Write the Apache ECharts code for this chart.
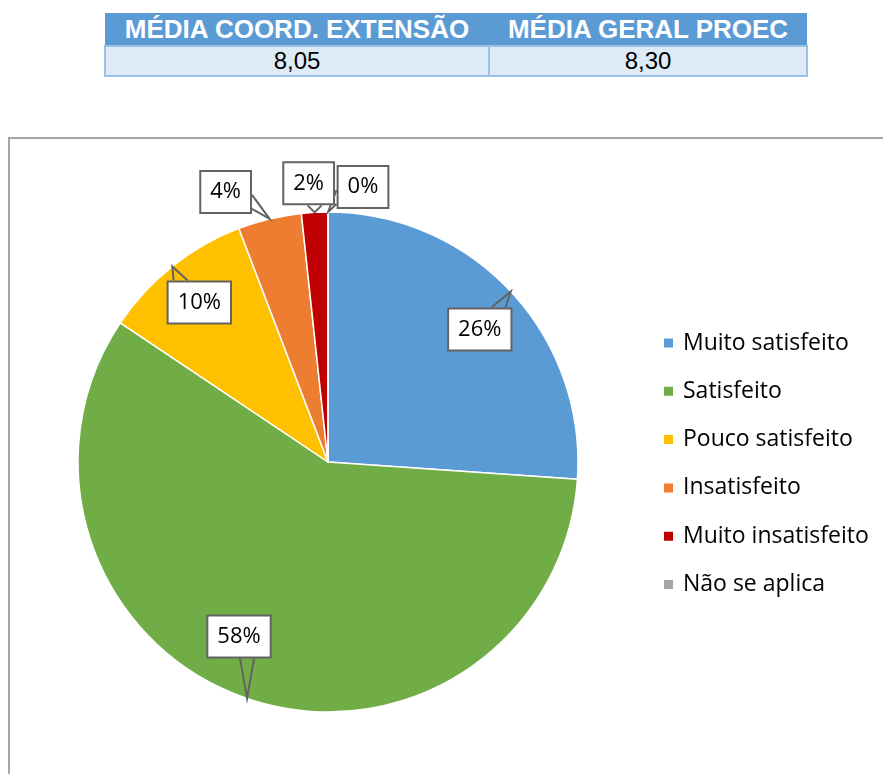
<!DOCTYPE html>
<html lang="pt">
<head>
    <meta charset="UTF-8">
    <title>Satisfação</title>
    <script type="text/javascript" src="https://cdn.jsdelivr.net/npm/echarts@6/dist/echarts.min.js"></script>
    <style>
        body {
            margin: 0;
            width: 883px;
            height: 774px;
            overflow: hidden;
            background: #fff;
            position: relative;
        }

        .media {
            position: absolute;
            left: 104px;
            top: 13px;
            border-collapse: collapse;
            font-family: "Liberation Sans", Arial, sans-serif;
        }

        .media th {
            background-color: #5b9bd5;
            color: #fff;
            font-size: 26px;
            font-weight: bold;
            height: 32px;
            padding: 0;
            line-height: 32px;
        }

        .media td {
            background-color: #ddebf7;
            border: 2px solid #9bc2e6;
            color: #000;
            font-size: 24px;
            height: 28px;
            padding: 0;
            text-align: center;
            line-height: 28px;
        }

        .frame {
            position: absolute;
            left: 8px;
            top: 137px;
            width: 900px;
            height: 700px;
            border-left: 2px solid #a6a6a6;
            border-top: 2px solid #a6a6a6;
        }

        #main {
            position: absolute;
            left: 0;
            top: 0;
            width: 883px;
            height: 774px;
        }
    </style>
</head>
<body>
<table class="media">
    <tr>
        <th style="width: 384px;">MÉDIA COORD. EXTENSÃO</th>
        <th style="width: 318px;">MÉDIA GERAL PROEC</th>
    </tr>
    <tr>
        <td>8,05</td>
        <td>8,30</td>
    </tr>
</table>
<div class="frame"></div>
<div id="main"></div>
<script>
    // categorias e percentuais
    var categorias = ['Muito satisfeito', 'Satisfeito', 'Pouco satisfeito', 'Insatisfeito', 'Muito insatisfeito', 'Não se aplica'];
    var valores = [26.1, 58.3, 9.8, 4.1, 1.7, 0];
    var cores = ['#5b9bd5', '#70ad47', '#ffc000', '#ed7d31', '#c00000', '#a5a5a5'];
    // deslocamento da caixa do rótulo em relação à ponta (borda da fatia)
    var deslocRotulo = [[-31, 38], [-8, -62], [27, 36], [-44, -27], [-6, -29], [35, -25]];

    var chartDom = document.getElementById('main');
    var myChart = echarts.init(chartDom);

    var dados = [];
    var dadosRotulo = [];
    for (var i = 0; i < categorias.length; i++) {
        dados.push({name: categorias[i], value: valores[i], itemStyle: {color: cores[i]}});
        dadosRotulo.push({name: categorias[i], value: valores[i]});
    }

    // caixa do rótulo com "bico" apontando para a borda da fatia
    function balao(params) {
        var tip = params.labelLinePoints[0];
        var off = deslocRotulo[params.dataIndex];
        var w = params.labelRect.width, h = params.labelRect.height;
        var cx = tip[0] + off[0], cy = tip[1] + off[1];
        var l = cx - w / 2, r = cx + w / 2, t = cy - h / 2, b = cy + h / 2;
        var gx = tip[0] < l ? l - tip[0] : (tip[0] > r ? tip[0] - r : 0);
        var gy = tip[1] < t ? t - tip[1] : (tip[1] > b ? tip[1] - b : 0);
        var p1, p2;
        if (gy >= gx) {
            var ey = tip[1] < t ? t : b;
            var mx = Math.min(Math.max(tip[0], l + 14), r - 14);
            p1 = [mx - 7, ey];
            p2 = [mx + 7, ey];
        } else {
            var ex = tip[0] < l ? l : r;
            var my = Math.min(Math.max(tip[1], t + 12), b - 12);
            p1 = [ex, my - 7];
            p2 = [ex, my + 7];
        }
        return {
            x: cx,
            y: cy,
            align: 'center',
            verticalAlign: 'middle',
            labelLinePoints: [p1, tip, p2]
        };
    }

    var option = {
        animation: false,
        legend: {
            orient: 'vertical',
            left: 657,
            top: 326,
            itemWidth: 11,
            itemHeight: 11,
            itemGap: 24.3,
            icon: 'rect',
            data: categorias,
            textStyle: {
                color: '#000',
                fontFamily: 'Open Sans',
                fontSize: 23,
                lineHeight: 24,
                padding: [0, 0, 0, 4]
            }
        },
        series: [{
            type: 'pie',
            z: 2,
            center: [328, 462],
            radius: 250,
            startAngle: 90,
            clockwise: true,
            data: dados,
            itemStyle: {
                borderColor: '#fff',
                borderWidth: 1.5
            },
            emphasis: {disabled: true},
            label: {show: false},
            labelLine: {show: false}
        }, {
            // mesma pizza, transparente, só para os rótulos ficarem por cima
            type: 'pie',
            z: 3,
            silent: true,
            legendHoverLink: false,
            center: [328, 462],
            radius: 250,
            startAngle: 90,
            clockwise: true,
            avoidLabelOverlap: false,
            data: dadosRotulo,
            itemStyle: {
                color: 'rgba(0,0,0,0)',
                borderWidth: 0
            },
            emphasis: {disabled: true},
            label: {
                show: true,
                position: 'outside',
                formatter: function (p) {
                    return Math.round(p.value) + '%';
                },
                color: '#000',
                fontFamily: 'Open Sans',
                fontSize: 22,
                lineHeight: 24,
                backgroundColor: '#fff',
                borderColor: '#636363',
                borderWidth: 2,
                padding: [8, 9]
            },
            labelLine: {
                show: true,
                length: 5,
                length2: 5,
                lineStyle: {
                    color: '#636363',
                    width: 2
                }
            },
            labelLayout: balao
        }]
    };

    myChart.setOption(option);
</script>
</body>
</html>
